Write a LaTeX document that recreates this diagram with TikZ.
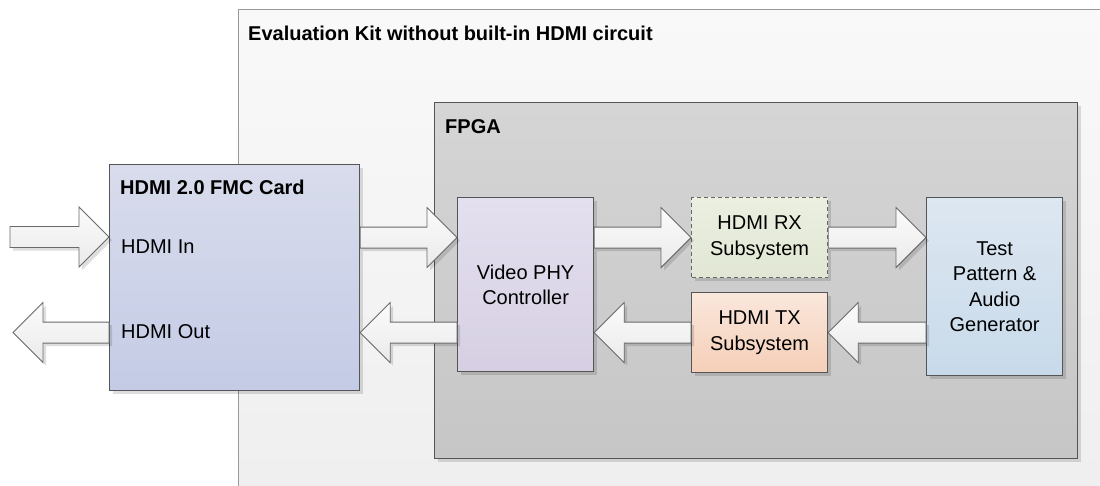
\documentclass[tikz,border=0pt]{standalone}
\usepackage{fontspec}
\setmainfont{Liberation Sans}
\usetikzlibrary{calc,shadows}
\definecolor{boxline}{HTML}{555555}
\definecolor{kitline}{HTML}{999999}
\definecolor{kittop}{HTML}{F9F9F9}
\definecolor{kitbot}{HTML}{EEEEEE}
\definecolor{fpgatop}{HTML}{D5D5D5}
\definecolor{fpgabot}{HTML}{C6C6C6}
\definecolor{fmctop}{HTML}{D8DCEC}
\definecolor{fmcbot}{HTML}{C4CBE5}
\definecolor{phytop}{HTML}{E4E0EF}
\definecolor{phybot}{HTML}{D6CFE3}
\definecolor{rxtop}{HTML}{EAEFE0}
\definecolor{rxbot}{HTML}{E1E7D4}
\definecolor{txtop}{HTML}{FAE7DC}
\definecolor{txbot}{HTML}{F5CFB8}
\definecolor{tptop}{HTML}{DDE7F1}
\definecolor{tpbot}{HTML}{C8DAEA}
\definecolor{arrtop}{HTML}{FBFBFB}
\definecolor{arrbot}{HTML}{EAEAEA}
\definecolor{arrline}{HTML}{6A6A6A}
\tikzset{
  every node/.style={font=\fontsize{20}{25.5}\selectfont},
  shad/.style={drop shadow={shadow xshift=3pt, shadow yshift=-3pt, opacity=0.13, fill=black}},
  blk/.style={draw=boxline, line width=1.2pt, inner sep=0pt, align=center, anchor=north west, shad},
  frame/.style={draw=#1, line width=1.3pt, inner sep=0pt, anchor=north west},
  ttl/.style={font=\fontsize{20}{25.5}\selectfont\bfseries, anchor=west, inner sep=0pt},
  lbl/.style={anchor=west, inner sep=0pt},
  barrow/.style={draw=arrline, line width=0.9pt, top color=arrtop, bottom color=arrbot, shad, line join=miter}
}
\newcommand\harrow[2]{%
  \draw[barrow] let \p1=(#1), \p2=(#2), \n1={(\x2>\x1)*2-1} in
    (\x1,\y1+10.5pt) -- (\x2-\n1*30pt,\y1+10.5pt) -- (\x2-\n1*30pt,\y1+30pt) --
    (\x2,\y1) -- (\x2-\n1*30pt,\y1-30pt) -- (\x2-\n1*30pt,\y1-10.5pt) --
    (\x1,\y1-10.5pt) -- cycle;}
\begin{document}
\begin{tikzpicture}[x=1pt,y=-1pt]
\useasboundingbox (0,0) rectangle (1100,485);
\clip (0,0) rectangle (1100,485);
\fill[white] (0,0) rectangle (1100,485);
% kit frame
\node[frame=kitline, top color=kittop, bottom color=kitbot, minimum width=950, minimum height=520] (kit) at (238,9) {};
\node[ttl] (kitt) at (248,33) {Evaluation Kit without built-in HDMI circuit};
% FPGA frame
\node[frame=boxline, top color=fpgatop, bottom color=fpgabot, minimum width=643, minimum height=356, shad] (fpga) at (434,102) {};
\node[ttl] (fpgat) at (445,127) {FPGA};
% FMC card
\node[blk, top color=fmctop, bottom color=fmcbot, minimum width=250, minimum height=226] (fmc) at (109,164) {};
\node[ttl] (fmct) at (120,187) {HDMI 2.0 FMC Card};
\node[lbl] (hin) at (121,247) {HDMI In};
\node[lbl] (hout) at (121,332) {HDMI Out};
% blocks
\node[blk, draw=boxline, top color=phytop, bottom color=phybot, minimum width=136, minimum height=174] (phy) at (457,197) {Video PHY\\Controller};
\node[blk, draw=boxline!90, dashed, dash pattern=on 4pt off 3pt, top color=rxtop, bottom color=rxbot, minimum width=136, minimum height=80] (rx) at (691,197) {HDMI RX\\Subsystem};
\node[blk, top color=txtop, bottom color=txbot, minimum width=136, minimum height=80] (tx) at (691,292) {HDMI TX\\Subsystem};
\node[blk, top color=tptop, bottom color=tpbot, minimum width=136, minimum height=178] (tp) at (926,197) {Test\\Pattern \&\\Audio\\Generator};
% free ends
\coordinate (inL) at (10,237);
\coordinate (outL) at (13,332);
% arrows
\harrow{inL}{fmc.west |- rx.west}
\harrow{fmc.east |- rx.west}{phy.west |- rx.west}
\harrow{phy.east |- rx.west}{rx.west}
\harrow{rx.east}{tp.west |- rx.east}
\harrow{tp.west |- tx.east}{tx.east}
\harrow{tx.west}{phy.east |- tx.west}
\harrow{phy.west |- tx.west}{fmc.east |- tx.west}
\harrow{fmc.west |- tx.west}{outL}
\end{tikzpicture}
\end{document}
